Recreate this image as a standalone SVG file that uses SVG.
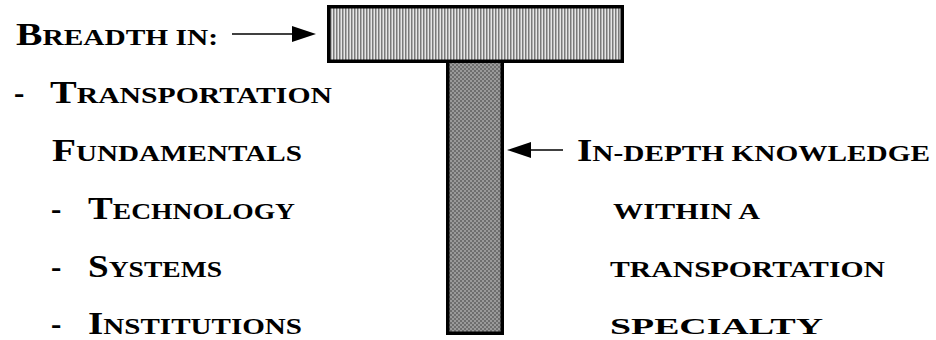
<svg xmlns="http://www.w3.org/2000/svg" width="936" height="340" viewBox="0 0 936 340">
<style>
.t{font-family:"Liberation Serif","Times New Roman",serif;font-weight:bold;font-size:31px;fill:#000}
.s{font-size:23px}
.bar{stroke:#000;stroke-width:3.5}
.conn{stroke:#000;stroke-width:1.5;fill:none}
</style>
<defs>
<pattern id="stripes" width="3" height="4" patternUnits="userSpaceOnUse">
<rect width="3" height="4" fill="#e6e6e6"/>
<rect width="1.5" height="4" fill="#7a7a7a"/>
</pattern>
<pattern id="checks" width="4" height="4" patternUnits="userSpaceOnUse">
<rect width="4" height="4" fill="#9a9a9a"/>
<rect width="2" height="2" fill="#6e6e6e"/>
<rect x="2" y="2" width="2" height="2" fill="#6e6e6e"/>
</pattern>
</defs>
<g id="stem">
<rect class="bar" x="447.75" y="61" width="54.5" height="272.25" fill="url(#checks)"/>
</g>
<g id="crossbar">
<rect class="bar" x="328.75" y="6.75" width="293.5" height="54.5" fill="url(#stripes)"/>
</g>
<g id="connectors">
<line class="conn" x1="232" y1="34" x2="295" y2="34"/>
<path d="M292,26 L316,34 L292,42 Z" fill="#000"/>
<line class="conn" x1="563" y1="150" x2="528" y2="150"/>
<path d="M531,142 L507,150 L531,158 Z" fill="#000"/>
</g>
<g id="breadth">
<text class="t" x="16" y="45" textLength="202" lengthAdjust="spacingAndGlyphs">B<tspan class="s">READTH IN:</tspan></text>
<text class="t" x="14" y="103">-</text>
<text class="t" x="50" y="103" textLength="282" lengthAdjust="spacingAndGlyphs">T<tspan class="s">RANSPORTATION</tspan></text>
<text class="t" x="52" y="161" textLength="250" lengthAdjust="spacingAndGlyphs">F<tspan class="s">UNDAMENTALS</tspan></text>
<text class="t" x="51" y="219">-</text>
<text class="t" x="88" y="219" textLength="207" lengthAdjust="spacingAndGlyphs">T<tspan class="s">ECHNOLOGY</tspan></text>
<text class="t" x="51" y="277">-</text>
<text class="t" x="88" y="277" textLength="134" lengthAdjust="spacingAndGlyphs">S<tspan class="s">YSTEMS</tspan></text>
<text class="t" x="51" y="334">-</text>
<text class="t" x="88" y="334" textLength="214" lengthAdjust="spacingAndGlyphs">I<tspan class="s">NSTITUTIONS</tspan></text>
</g>
<g id="depth">
<text class="t" x="577" y="161" textLength="353" lengthAdjust="spacingAndGlyphs">I<tspan class="s">N-DEPTH KNOWLEDGE</tspan></text>
<text class="t s" x="613" y="219" textLength="147" lengthAdjust="spacingAndGlyphs">WITHIN A</text>
<text class="t s" x="610" y="277" textLength="275" lengthAdjust="spacingAndGlyphs">TRANSPORTATION</text>
<text class="t s" x="610" y="334" textLength="213" lengthAdjust="spacingAndGlyphs">SPECIALTY</text>
</g>
</svg>
